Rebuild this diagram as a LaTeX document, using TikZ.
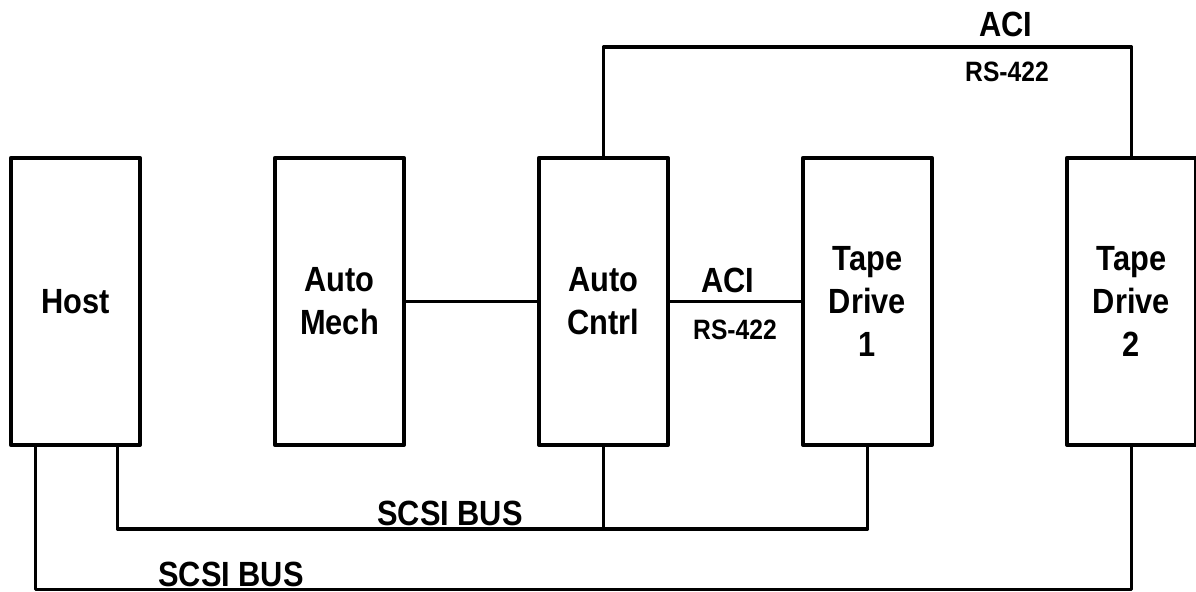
\documentclass[tikz,border=0pt]{standalone}
\usepackage{fontspec}
\setmainfont{Liberation Sans}[FakeStretch=0.88]
\begin{document}
\begin{tikzpicture}[x=0.5pt,y=-0.5pt, line join=round, line cap=round,
	unit/.style={draw, line width=1.9pt, minimum width=64.6pt, minimum height=143.6pt, inner sep=0pt, align=center, font=\bfseries\fontsize{17.5}{21.5}\selectfont},
	wire/.style={line width=1.7pt},
	big/.style={inner sep=0pt, font=\bfseries\fontsize{17.5}{21}\selectfont},
	small/.style={inner sep=0pt, font=\bfseries\fontsize{14}{16}\selectfont}]
	\useasboundingbox (0,0) rectangle (1196,592);
	% the five units
	\foreach \nm/\txt [count=\i from 0] in {host/Host, mech/{Auto\\Mech}, cntrl/{Auto\\Cntrl}, drive1/{Tape\\Drive\\1}, drive2/{Tape\\Drive\\2}}
	{\node[unit] (\nm) at (75.5+264*\i,301.5) {\txt};}
	% bus end points
	\coordinate (h1) at ([xshift=-20pt]host.south);
	\coordinate (h2) at ([xshift=21pt]host.south);
	\coordinate (top) at (860,47);
	\coordinate (inner) at (450,529);
	\coordinate (outer) at (600,589.5);
	% links
	\draw[wire] (mech.east) -- (cntrl.west);
	\draw[wire] (cntrl.east) -- (drive1.west);
	\draw[wire] (cntrl.north) |- (top) -| (drive2.north);
	\draw[wire] (h2) |- (inner) -| (drive1.south);
	\draw[wire] (cntrl.south) -- (cntrl.south |- inner);
	\draw[wire] (h1) |- (outer) -| (drive2.south);
	% labels
	\node[big] (aciTop) at (1006,24) {ACI};
	\node[small] (rsTop) at (1007,72) {RS-422};
	\node[big] (aciMid) at (728,280) {ACI};
	\node[small] (rsMid) at (735,330) {RS-422};
	\node[big] (scsiIn) at (450,513) {SCSI BUS};
	\node[big] (scsiOut) at (231,574) {SCSI BUS};
\end{tikzpicture}
\end{document}
